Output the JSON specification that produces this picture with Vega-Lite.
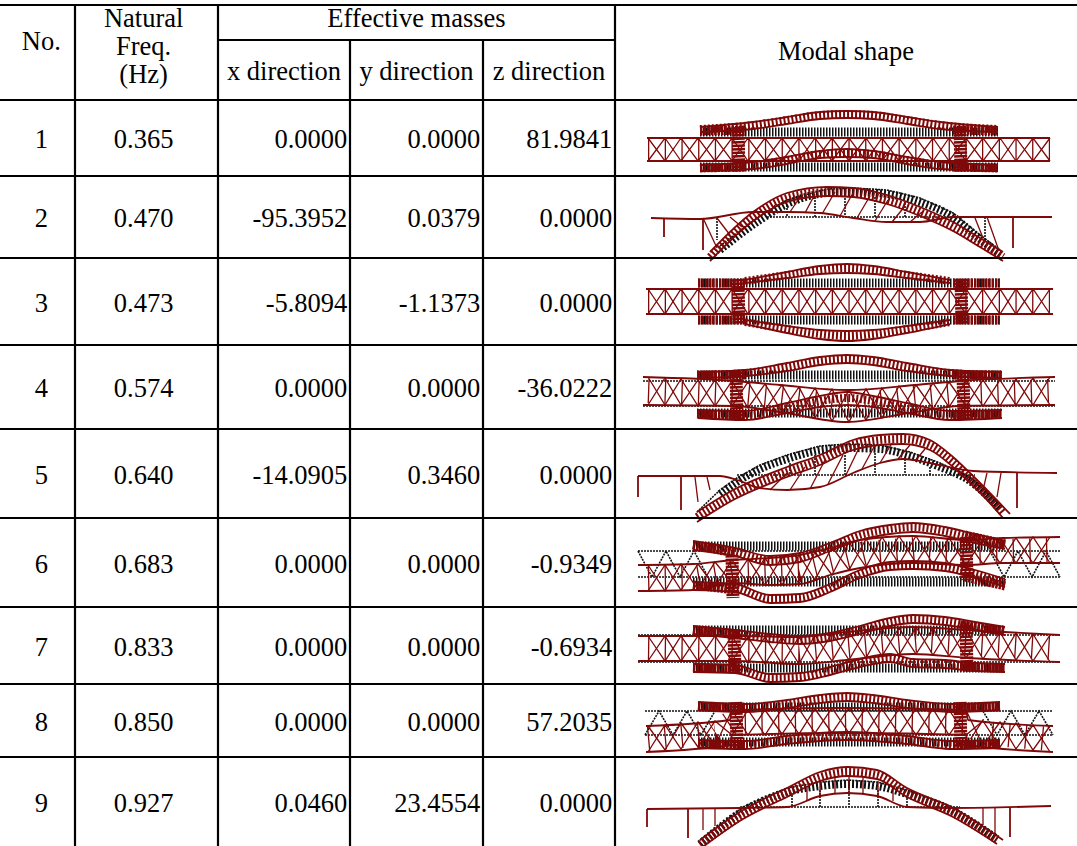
{"$schema":"https://vega.github.io/schema/vega-lite/v6.json","width":1077,"height":846,"padding":0,"autosize":"none","background":"white","config":{"view":{"stroke":null},"text":{"font":"Liberation Serif","fontSize":26.5,"color":"#000"}},
"datasets":{
"table":[{"no":1,"freq":"0.365","mx":"0.0000","my":"0.0000","mz":"81.9841"},{"no":2,"freq":"0.470","mx":"-95.3952","my":"0.0379","mz":"0.0000"},{"no":3,"freq":"0.473","mx":"-5.8094","my":"-1.1373","mz":"0.0000"},{"no":4,"freq":"0.574","mx":"0.0000","my":"0.0000","mz":"-36.0222"},{"no":5,"freq":"0.640","mx":"-14.0905","my":"0.3460","mz":"0.0000"},{"no":6,"freq":"0.683","mx":"0.0000","my":"0.0000","mz":"-0.9349"},{"no":7,"freq":"0.833","mx":"0.0000","my":"0.0000","mz":"-0.6934"},{"no":8,"freq":"0.850","mx":"0.0000","my":"0.0000","mz":"57.2035"},{"no":9,"freq":"0.927","mx":"0.0460","my":"23.4554","mz":"0.0000"}],
"head":[{"t":"No.","c":0.55,"r":0.017},{"t":"Natural","c":1.48,"r":-0.6},{"t":"Freq.","c":1.48,"r":0.058},{"t":"(Hz)","c":1.48,"r":0.29},{"t":"Effective masses","c":3.5,"r":-0.6},{"t":"x direction","c":2.5,"r":0.267},{"t":"y direction","c":3.5,"r":0.267},{"t":"z direction","c":4.5,"r":0.267},{"t":"Modal shape","c":5.5,"r":0.1}],
"hl":[{"a":0,"b":6,"r":-1},{"a":2,"b":5,"r":0},{"a":0,"b":6,"r":0.5},{"a":0,"b":6,"r":1.5},{"a":0,"b":6,"r":2.5},{"a":0,"b":6,"r":3.5},{"a":0,"b":6,"r":4.5},{"a":0,"b":6,"r":5.5},{"a":0,"b":6,"r":6.5},{"a":0,"b":6,"r":7.5},{"a":0,"b":6,"r":8.5}],
"vl":[{"c":1,"a":-1,"b":9.5},{"c":2,"a":-1,"b":9.5},{"c":3,"a":0,"b":9.5},{"c":4,"a":0,"b":9.5},{"c":5,"a":-1,"b":9.5}],
"refBand":[{"k":"1t","x":700,"y":132},{"k":"1t","x":998,"y":132},{"k":"1b","x":700,"y":167},{"k":"1b","x":998,"y":167},{"k":"3t","x":698,"y":283},{"k":"3t","x":1000,"y":283},{"k":"3b","x":698,"y":320},{"k":"3b","x":1000,"y":320},{"k":"4t","x":697,"y":375},{"k":"4t","x":1002,"y":375},{"k":"4b","x":697,"y":413},{"k":"4b","x":1002,"y":413},{"k":"6t","x":693,"y":546},{"k":"6t","x":1005,"y":546},{"k":"6b","x":693,"y":582},{"k":"6b","x":1005,"y":582},{"k":"7t","x":693,"y":630},{"k":"7t","x":1005,"y":630},{"k":"7b","x":693,"y":668},{"k":"7b","x":1005,"y":668},{"k":"8t","x":698,"y":707},{"k":"8t","x":1000,"y":707},{"k":"8b","x":698,"y":742},{"k":"8b","x":1000,"y":742}],
"refLine":[{"k":"4a","x":643,"y":381},{"k":"4a","x":1055,"y":381},{"k":"4b","x":643,"y":406},{"k":"4b","x":1055,"y":406},{"k":"6a","x":638,"y":551},{"k":"6a","x":1060,"y":551},{"k":"6b","x":638,"y":577},{"k":"6b","x":1060,"y":577},{"k":"7a","x":638,"y":635},{"k":"7a","x":1060,"y":635},{"k":"7b","x":638,"y":662},{"k":"7b","x":1060,"y":662},{"k":"8a","x":645,"y":711},{"k":"8a","x":1053,"y":711},{"k":"8b","x":645,"y":735},{"k":"8b","x":1053,"y":735},
{"k":"6l","x":638,"y":551},{"k":"6l","x":652,"y":577},{"k":"6l","x":666,"y":551},{"k":"6l","x":680,"y":577},{"k":"6l","x":694,"y":551},{"k":"6l","x":708,"y":577},{"k":"6r","x":990,"y":551},{"k":"6r","x":1004,"y":577},{"k":"6r","x":1018,"y":551},{"k":"6r","x":1032,"y":577},{"k":"6r","x":1046,"y":551},{"k":"6r","x":1060,"y":577},
{"k":"8l","x":645,"y":735},{"k":"8l","x":659,"y":711},{"k":"8l","x":673,"y":735},{"k":"8l","x":687,"y":711},{"k":"8l","x":701,"y":735},{"k":"8l","x":715,"y":711},{"k":"8r","x":983,"y":711},{"k":"8r","x":997,"y":735},{"k":"8r","x":1011,"y":711},{"k":"8r","x":1025,"y":735},{"k":"8r","x":1039,"y":711},{"k":"8r","x":1053,"y":735},
{"k":"2o","x":720,"y":246},{"k":"2o","x":760,"y":216},{"k":"2o","x":787,"y":200},{"k":"2o","x":827,"y":189},{"k":"2o","x":853,"y":188},{"k":"2o","x":887,"y":190},{"k":"2o","x":920,"y":198},{"k":"2o","x":953,"y":213},{"k":"2o","x":980,"y":235},{"k":"2o","x":1000,"y":250},{"k":"2d","x":767,"y":217},{"k":"2d","x":1005,"y":217},{"k":"2e","x":1005,"y":217},{"k":"2e","x":1052,"y":217},
{"k":"2h1","x":787,"y":205},{"k":"2h1","x":787,"y":217},{"k":"2h2","x":815,"y":197},{"k":"2h2","x":815,"y":217},{"k":"2h3","x":845,"y":195},{"k":"2h3","x":845,"y":217},{"k":"2h4","x":875,"y":197},{"k":"2h4","x":875,"y":217},{"k":"2h5","x":905,"y":203},{"k":"2h5","x":905,"y":217},{"k":"2p1","x":717,"y":218},{"k":"2p1","x":717,"y":240},{"k":"2p2","x":985,"y":217},{"k":"2p2","x":985,"y":240},
{"k":"5o","x":697,"y":512},{"k":"5o","x":720,"y":490},{"k":"5o","x":737,"y":478},{"k":"5o","x":760,"y":465},{"k":"5o","x":787,"y":455},{"k":"5o","x":820,"y":446},{"k":"5o","x":847,"y":444},{"k":"5o","x":880,"y":445},{"k":"5o","x":910,"y":452},{"k":"5o","x":940,"y":463},{"k":"5o","x":970,"y":477},{"k":"5o","x":1000,"y":505},{"k":"5d","x":737,"y":475},{"k":"5d","x":975,"y":475},
{"k":"5h1","x":790,"y":463},{"k":"5h1","x":790,"y":475},{"k":"5h2","x":815,"y":455},{"k":"5h2","x":815,"y":475},{"k":"5h3","x":845,"y":452},{"k":"5h3","x":845,"y":475},{"k":"5h4","x":875,"y":453},{"k":"5h4","x":875,"y":475},{"k":"5h5","x":905,"y":459},{"k":"5h5","x":905,"y":475},{"k":"5h6","x":930,"y":467},{"k":"5h6","x":930,"y":475},
{"k":"9o","x":700,"y":840},{"k":"9o","x":743,"y":807},{"k":"9o","x":787,"y":788},{"k":"9o","x":820,"y":782},{"k":"9o","x":848,"y":780},{"k":"9o","x":877,"y":782},{"k":"9o","x":907,"y":790},{"k":"9o","x":953,"y":807},{"k":"9o","x":997,"y":835},{"k":"9d","x":740,"y":807},{"k":"9d","x":960,"y":807},
{"k":"9h1","x":792,"y":795},{"k":"9h1","x":792,"y":807},{"k":"9h2","x":820,"y":790},{"k":"9h2","x":820,"y":807},{"k":"9h3","x":849,"y":788},{"k":"9h3","x":849,"y":807},{"k":"9h4","x":878,"y":790},{"k":"9h4","x":878,"y":807},{"k":"9h5","x":907,"y":798},{"k":"9h5","x":907,"y":807}],
"refHatch":[{"k":"2","x":720,"y":250},{"k":"2","x":760,"y":220},{"k":"2","x":787,"y":204},{"k":"2","x":827,"y":193},{"k":"2","x":853,"y":192},{"k":"2","x":887,"y":194},{"k":"2","x":920,"y":202},{"k":"2","x":953,"y":217},{"k":"2","x":980,"y":239},{"k":"2","x":1000,"y":254},{"k":"5","x":720,"y":494},{"k":"5","x":737,"y":482},{"k":"5","x":760,"y":469},{"k":"5","x":787,"y":459},{"k":"5","x":820,"y":450},{"k":"5","x":847,"y":448},{"k":"5","x":880,"y":449},{"k":"5","x":910,"y":456},{"k":"5","x":940,"y":467},{"k":"5","x":970,"y":481},{"k":"5","x":1000,"y":509},{"k":"9","x":700,"y":844},{"k":"9","x":743,"y":811},{"k":"9","x":787,"y":792},{"k":"9","x":820,"y":786},{"k":"9","x":848,"y":784},{"k":"9","x":877,"y":786},{"k":"9","x":907,"y":794},{"k":"9","x":953,"y":811},{"k":"9","x":997,"y":839}],
"vert":[{"k":"1","x":648,"y":150},{"k":"1","x":1050,"y":150},{"k":"3","x":648,"y":301},{"k":"3","x":1050,"y":301},{"k":"4","x":648,"y":391},{"k":"4","x":735,"y":394},{"k":"4","x":780,"y":398},{"k":"4","x":847,"y":406},{"k":"4","x":915,"y":398},{"k":"4","x":960,"y":394},{"k":"4","x":1050,"y":391},{"k":"6","x":648,"y":578},{"k":"6","x":698,"y":577},{"k":"6","x":733,"y":571},{"k":"6","x":799,"y":569},{"k":"6","x":866,"y":553},{"k":"6","x":916,"y":549},{"k":"6","x":966,"y":552},{"k":"6","x":1050,"y":550},{"k":"7","x":648,"y":648},{"k":"7","x":799,"y":650},{"k":"7","x":916,"y":640},{"k":"7","x":1050,"y":648},{"k":"8","x":648,"y":739},{"k":"8","x":715,"y":733},{"k":"8","x":732,"y":722},{"k":"8","x":849,"y":720},{"k":"8","x":966,"y":722},{"k":"8","x":983,"y":733},{"k":"8","x":1050,"y":739}],
"web":[
{"k":"1a","x":648,"y":138},{"k":"1a","x":665,"y":161},{"k":"1a","x":681,"y":138},{"k":"1a","x":698,"y":161},{"k":"1a","x":715,"y":138},{"k":"1a","x":732,"y":161},{"k":"1a","x":748,"y":138},{"k":"1a","x":765,"y":161},{"k":"1a","x":782,"y":138},{"k":"1a","x":799,"y":161},{"k":"1a","x":815,"y":138},{"k":"1a","x":832,"y":161},{"k":"1a","x":849,"y":138},{"k":"1a","x":866,"y":161},{"k":"1a","x":882,"y":138},{"k":"1a","x":899,"y":161},{"k":"1a","x":916,"y":138},{"k":"1a","x":933,"y":161},{"k":"1a","x":949,"y":138},{"k":"1a","x":966,"y":161},{"k":"1a","x":983,"y":138},{"k":"1a","x":1000,"y":161},{"k":"1a","x":1016,"y":138},{"k":"1a","x":1033,"y":161},{"k":"1a","x":1050,"y":138},
{"k":"1b","x":648,"y":161},{"k":"1b","x":665,"y":138},{"k":"1b","x":681,"y":161},{"k":"1b","x":698,"y":138},{"k":"1b","x":715,"y":161},{"k":"1b","x":732,"y":138},{"k":"1b","x":748,"y":161},{"k":"1b","x":765,"y":138},{"k":"1b","x":782,"y":161},{"k":"1b","x":799,"y":138},{"k":"1b","x":815,"y":161},{"k":"1b","x":832,"y":138},{"k":"1b","x":849,"y":161},{"k":"1b","x":866,"y":138},{"k":"1b","x":882,"y":161},{"k":"1b","x":899,"y":138},{"k":"1b","x":916,"y":161},{"k":"1b","x":933,"y":138},{"k":"1b","x":949,"y":161},{"k":"1b","x":966,"y":138},{"k":"1b","x":983,"y":161},{"k":"1b","x":1000,"y":138},{"k":"1b","x":1016,"y":161},{"k":"1b","x":1033,"y":138},{"k":"1b","x":1050,"y":161},
{"k":"3a","x":648,"y":289},{"k":"3a","x":665,"y":314},{"k":"3a","x":681,"y":289},{"k":"3a","x":698,"y":314},{"k":"3a","x":715,"y":289},{"k":"3a","x":732,"y":314},{"k":"3a","x":748,"y":289},{"k":"3a","x":765,"y":314},{"k":"3a","x":782,"y":289},{"k":"3a","x":799,"y":314},{"k":"3a","x":815,"y":289},{"k":"3a","x":832,"y":314},{"k":"3a","x":849,"y":289},{"k":"3a","x":866,"y":314},{"k":"3a","x":882,"y":289},{"k":"3a","x":899,"y":314},{"k":"3a","x":916,"y":289},{"k":"3a","x":933,"y":314},{"k":"3a","x":949,"y":289},{"k":"3a","x":966,"y":314},{"k":"3a","x":983,"y":289},{"k":"3a","x":1000,"y":314},{"k":"3a","x":1016,"y":289},{"k":"3a","x":1033,"y":314},{"k":"3a","x":1050,"y":289},
{"k":"3b","x":648,"y":314},{"k":"3b","x":665,"y":289},{"k":"3b","x":681,"y":314},{"k":"3b","x":698,"y":289},{"k":"3b","x":715,"y":314},{"k":"3b","x":732,"y":289},{"k":"3b","x":748,"y":314},{"k":"3b","x":765,"y":289},{"k":"3b","x":782,"y":314},{"k":"3b","x":799,"y":289},{"k":"3b","x":815,"y":314},{"k":"3b","x":832,"y":289},{"k":"3b","x":849,"y":314},{"k":"3b","x":866,"y":289},{"k":"3b","x":882,"y":314},{"k":"3b","x":899,"y":289},{"k":"3b","x":916,"y":314},{"k":"3b","x":933,"y":289},{"k":"3b","x":949,"y":314},{"k":"3b","x":966,"y":289},{"k":"3b","x":983,"y":314},{"k":"3b","x":1000,"y":289},{"k":"3b","x":1016,"y":314},{"k":"3b","x":1033,"y":289},{"k":"3b","x":1050,"y":314},
{"k":"4a","x":648,"y":377},{"k":"4a","x":665,"y":405},{"k":"4a","x":681,"y":379},{"k":"4a","x":698,"y":406},{"k":"4a","x":715,"y":380},{"k":"4a","x":732,"y":406},{"k":"4a","x":748,"y":382},{"k":"4a","x":765,"y":410},{"k":"4a","x":782,"y":385},{"k":"4a","x":799,"y":415},{"k":"4a","x":815,"y":388},{"k":"4a","x":832,"y":421},{"k":"4a","x":849,"y":390},{"k":"4a","x":866,"y":420},{"k":"4a","x":882,"y":388},{"k":"4a","x":899,"y":415},{"k":"4a","x":916,"y":385},{"k":"4a","x":933,"y":409},{"k":"4a","x":949,"y":382},{"k":"4a","x":966,"y":406},{"k":"4a","x":983,"y":380},{"k":"4a","x":1000,"y":406},{"k":"4a","x":1016,"y":379},{"k":"4a","x":1033,"y":405},{"k":"4a","x":1050,"y":377},
{"k":"4b","x":648,"y":405},{"k":"4b","x":665,"y":378},{"k":"4b","x":681,"y":405},{"k":"4b","x":698,"y":380},{"k":"4b","x":715,"y":406},{"k":"4b","x":732,"y":381},{"k":"4b","x":748,"y":408},{"k":"4b","x":765,"y":384},{"k":"4b","x":782,"y":412},{"k":"4b","x":799,"y":387},{"k":"4b","x":815,"y":418},{"k":"4b","x":832,"y":389},{"k":"4b","x":849,"y":422},{"k":"4b","x":866,"y":389},{"k":"4b","x":882,"y":418},{"k":"4b","x":899,"y":386},{"k":"4b","x":916,"y":412},{"k":"4b","x":933,"y":383},{"k":"4b","x":949,"y":407},{"k":"4b","x":966,"y":381},{"k":"4b","x":983,"y":406},{"k":"4b","x":1000,"y":380},{"k":"4b","x":1016,"y":405},{"k":"4b","x":1033,"y":378},{"k":"4b","x":1050,"y":405},
{"k":"6a","x":648,"y":565},{"k":"6a","x":665,"y":591},{"k":"6a","x":681,"y":564},{"k":"6a","x":698,"y":590},{"k":"6a","x":715,"y":562},{"k":"6a","x":732,"y":583},{"k":"6a","x":748,"y":559},{"k":"6a","x":765,"y":585},{"k":"6a","x":782,"y":557},{"k":"6a","x":799,"y":584},{"k":"6a","x":815,"y":552},{"k":"6a","x":832,"y":575},{"k":"6a","x":849,"y":542},{"k":"6a","x":866,"y":567},{"k":"6a","x":882,"y":537},{"k":"6a","x":899,"y":564},{"k":"6a","x":916,"y":536},{"k":"6a","x":933,"y":564},{"k":"6a","x":949,"y":538},{"k":"6a","x":966,"y":565},{"k":"6a","x":983,"y":539},{"k":"6a","x":1000,"y":563},{"k":"6a","x":1016,"y":538},{"k":"6a","x":1033,"y":563},{"k":"6a","x":1050,"y":537},
{"k":"6b","x":648,"y":591},{"k":"6b","x":665,"y":565},{"k":"6b","x":681,"y":590},{"k":"6b","x":698,"y":564},{"k":"6b","x":715,"y":587},{"k":"6b","x":732,"y":560},{"k":"6b","x":748,"y":584},{"k":"6b","x":765,"y":558},{"k":"6b","x":782,"y":585},{"k":"6b","x":799,"y":555},{"k":"6b","x":815,"y":580},{"k":"6b","x":832,"y":547},{"k":"6b","x":849,"y":570},{"k":"6b","x":866,"y":539},{"k":"6b","x":882,"y":565},{"k":"6b","x":899,"y":536},{"k":"6b","x":916,"y":563},{"k":"6b","x":933,"y":537},{"k":"6b","x":949,"y":564},{"k":"6b","x":966,"y":540},{"k":"6b","x":983,"y":564},{"k":"6b","x":1000,"y":538},{"k":"6b","x":1016,"y":563},{"k":"6b","x":1033,"y":537},{"k":"6b","x":1050,"y":563},
{"k":"7a","x":648,"y":636},{"k":"7a","x":665,"y":661},{"k":"7a","x":681,"y":636},{"k":"7a","x":698,"y":661},{"k":"7a","x":715,"y":636},{"k":"7a","x":732,"y":661},{"k":"7a","x":748,"y":637},{"k":"7a","x":765,"y":664},{"k":"7a","x":782,"y":637},{"k":"7a","x":799,"y":664},{"k":"7a","x":815,"y":635},{"k":"7a","x":832,"y":661},{"k":"7a","x":849,"y":632},{"k":"7a","x":866,"y":658},{"k":"7a","x":882,"y":629},{"k":"7a","x":899,"y":655},{"k":"7a","x":916,"y":627},{"k":"7a","x":933,"y":655},{"k":"7a","x":949,"y":629},{"k":"7a","x":966,"y":658},{"k":"7a","x":983,"y":631},{"k":"7a","x":1000,"y":660},{"k":"7a","x":1016,"y":633},{"k":"7a","x":1033,"y":661},{"k":"7a","x":1050,"y":635},
{"k":"7b","x":648,"y":661},{"k":"7b","x":665,"y":636},{"k":"7b","x":681,"y":661},{"k":"7b","x":698,"y":636},{"k":"7b","x":715,"y":661},{"k":"7b","x":732,"y":636},{"k":"7b","x":748,"y":663},{"k":"7b","x":765,"y":637},{"k":"7b","x":782,"y":664},{"k":"7b","x":799,"y":637},{"k":"7b","x":815,"y":662},{"k":"7b","x":832,"y":633},{"k":"7b","x":849,"y":660},{"k":"7b","x":866,"y":630},{"k":"7b","x":882,"y":656},{"k":"7b","x":899,"y":628},{"k":"7b","x":916,"y":654},{"k":"7b","x":933,"y":628},{"k":"7b","x":949,"y":656},{"k":"7b","x":966,"y":630},{"k":"7b","x":983,"y":659},{"k":"7b","x":1000,"y":632},{"k":"7b","x":1016,"y":660},{"k":"7b","x":1033,"y":634},{"k":"7b","x":1050,"y":662},
{"k":"8a","x":648,"y":726},{"k":"8a","x":665,"y":750},{"k":"8a","x":681,"y":723},{"k":"8a","x":698,"y":747},{"k":"8a","x":715,"y":721},{"k":"8a","x":732,"y":735},{"k":"8a","x":748,"y":710},{"k":"8a","x":765,"y":735},{"k":"8a","x":782,"y":709},{"k":"8a","x":799,"y":734},{"k":"8a","x":815,"y":709},{"k":"8a","x":832,"y":733},{"k":"8a","x":849,"y":708},{"k":"8a","x":866,"y":733},{"k":"8a","x":882,"y":709},{"k":"8a","x":899,"y":734},{"k":"8a","x":916,"y":709},{"k":"8a","x":933,"y":735},{"k":"8a","x":949,"y":710},{"k":"8a","x":966,"y":735},{"k":"8a","x":983,"y":721},{"k":"8a","x":1000,"y":747},{"k":"8a","x":1016,"y":723},{"k":"8a","x":1033,"y":750},{"k":"8a","x":1050,"y":726},
{"k":"8b","x":648,"y":752},{"k":"8b","x":665,"y":725},{"k":"8b","x":681,"y":749},{"k":"8b","x":698,"y":722},{"k":"8b","x":715,"y":746},{"k":"8b","x":732,"y":710},{"k":"8b","x":748,"y":735},{"k":"8b","x":765,"y":710},{"k":"8b","x":782,"y":734},{"k":"8b","x":799,"y":709},{"k":"8b","x":815,"y":733},{"k":"8b","x":832,"y":708},{"k":"8b","x":849,"y":733},{"k":"8b","x":866,"y":708},{"k":"8b","x":882,"y":734},{"k":"8b","x":899,"y":709},{"k":"8b","x":916,"y":735},{"k":"8b","x":933,"y":709},{"k":"8b","x":949,"y":735},{"k":"8b","x":966,"y":710},{"k":"8b","x":983,"y":746},{"k":"8b","x":1000,"y":722},{"k":"8b","x":1016,"y":749},{"k":"8b","x":1033,"y":725},{"k":"8b","x":1050,"y":752},
{"k":"2h1","x":770,"y":212},{"k":"2h1","x":775,"y":205},{"k":"2h2","x":790,"y":212},{"k":"2h2","x":800,"y":197},{"k":"2h3","x":805,"y":213},{"k":"2h3","x":815,"y":194},{"k":"2h4","x":822,"y":214},{"k":"2h4","x":835,"y":192},{"k":"2h5","x":840,"y":216},{"k":"2h5","x":853,"y":193},{"k":"2h6","x":857,"y":218},{"k":"2h6","x":870,"y":196},{"k":"2h7","x":875,"y":221},{"k":"2h7","x":888,"y":200},{"k":"2h8","x":892,"y":222},{"k":"2h8","x":905,"y":206},{"k":"2h9","x":910,"y":222},{"k":"2h9","x":922,"y":212},{"k":"2p1","x":703,"y":218},{"k":"2p1","x":717,"y":248},{"k":"2p2","x":717,"y":218},{"k":"2p2","x":730,"y":235},{"k":"2p3","x":730,"y":217},{"k":"2p3","x":742,"y":227},{"k":"2p4","x":975,"y":218},{"k":"2p4","x":983,"y":238},{"k":"2p5","x":987,"y":217},{"k":"2p5","x":998,"y":248},
{"k":"5h1","x":770,"y":490},{"k":"5h1","x":787,"y":473},{"k":"5h2","x":790,"y":490},{"k":"5h2","x":805,"y":467},{"k":"5h3","x":810,"y":489},{"k":"5h3","x":825,"y":460},{"k":"5h4","x":828,"y":484},{"k":"5h4","x":843,"y":455},{"k":"5h5","x":845,"y":477},{"k":"5h5","x":858,"y":450},{"k":"5h6","x":862,"y":469},{"k":"5h6","x":875,"y":445},{"k":"5h7","x":880,"y":463},{"k":"5h7","x":892,"y":443},{"k":"5h8","x":898,"y":459},{"k":"5h8","x":910,"y":445},{"k":"5h9","x":915,"y":461},{"k":"5h9","x":925,"y":449},{"k":"5p1","x":695,"y":477},{"k":"5p1","x":698,"y":502},{"k":"5p2","x":707,"y":477},{"k":"5p2","x":710,"y":490},{"k":"5p3","x":983,"y":490},{"k":"5p3","x":987,"y":473},{"k":"5p4","x":997,"y":497},{"k":"5p4","x":1001,"y":473},
{"k":"9h1","x":807,"y":786},{"k":"9h1","x":807,"y":801},{"k":"9h2","x":820,"y":781},{"k":"9h2","x":820,"y":796},{"k":"9h3","x":835,"y":778},{"k":"9h3","x":835,"y":794},{"k":"9h4","x":849,"y":776},{"k":"9h4","x":849,"y":793},{"k":"9h5","x":863,"y":777},{"k":"9h5","x":863,"y":794},{"k":"9h6","x":878,"y":781},{"k":"9h6","x":878,"y":796},{"k":"9h7","x":893,"y":786},{"k":"9h7","x":893,"y":801},{"k":"9p1","x":703,"y":809},{"k":"9p1","x":703,"y":830},{"k":"9p2","x":715,"y":809},{"k":"9p2","x":715,"y":826},{"k":"9p3","x":983,"y":807},{"k":"9p3","x":983,"y":825},{"k":"9p4","x":995,"y":807},{"k":"9p4","x":995,"y":835}],
"hatch":[{"k":"1u","x":700,"y":129},{"k":"1u","x":753,"y":125},{"k":"1u","x":787,"y":120},{"k":"1u","x":820,"y":115},{"k":"1u","x":847,"y":114},{"k":"1u","x":873,"y":115},{"k":"1u","x":907,"y":120},{"k":"1u","x":940,"y":125},{"k":"1u","x":998,"y":129},{"k":"1l","x":700,"y":168},{"k":"1l","x":753,"y":165},{"k":"1l","x":787,"y":160},{"k":"1l","x":820,"y":154},{"k":"1l","x":847,"y":153},{"k":"1l","x":873,"y":154},{"k":"1l","x":907,"y":160},{"k":"1l","x":940,"y":165},{"k":"1l","x":998,"y":168},
{"k":"3u","x":745,"y":281},{"k":"3u","x":787,"y":275},{"k":"3u","x":820,"y":270},{"k":"3u","x":847,"y":268},{"k":"3u","x":873,"y":270},{"k":"3u","x":907,"y":275},{"k":"3u","x":950,"y":281},{"k":"3l","x":745,"y":322},{"k":"3l","x":787,"y":329},{"k":"3l","x":820,"y":334},{"k":"3l","x":847,"y":336},{"k":"3l","x":873,"y":334},{"k":"3l","x":907,"y":329},{"k":"3l","x":950,"y":322},
{"k":"4u","x":698,"y":375},{"k":"4u","x":745,"y":373},{"k":"4u","x":787,"y":367},{"k":"4u","x":820,"y":361},{"k":"4u","x":847,"y":359},{"k":"4u","x":873,"y":361},{"k":"4u","x":907,"y":367},{"k":"4u","x":950,"y":373},{"k":"4u","x":1002,"y":375},{"k":"4l","x":698,"y":414},{"k":"4l","x":745,"y":416},{"k":"4l","x":787,"y":408},{"k":"4l","x":820,"y":401},{"k":"4l","x":847,"y":398},{"k":"4l","x":873,"y":401},{"k":"4l","x":907,"y":408},{"k":"4l","x":950,"y":416},{"k":"4l","x":1002,"y":414},
{"k":"6u","x":693,"y":545},{"k":"6u","x":735,"y":552},{"k":"6u","x":770,"y":560},{"k":"6u","x":800,"y":557},{"k":"6u","x":830,"y":547},{"k":"6u","x":860,"y":535},{"k":"6u","x":890,"y":529},{"k":"6u","x":913,"y":527},{"k":"6u","x":945,"y":531},{"k":"6u","x":975,"y":538},{"k":"6u","x":1005,"y":545},{"k":"6l","x":693,"y":586},{"k":"6l","x":735,"y":588},{"k":"6l","x":770,"y":599},{"k":"6l","x":800,"y":598},{"k":"6l","x":830,"y":588},{"k":"6l","x":860,"y":574},{"k":"6l","x":890,"y":566},{"k":"6l","x":913,"y":565},{"k":"6l","x":945,"y":567},{"k":"6l","x":975,"y":574},{"k":"6l","x":1005,"y":583},
{"k":"7u","x":693,"y":630},{"k":"7u","x":735,"y":634},{"k":"7u","x":770,"y":638},{"k":"7u","x":800,"y":640},{"k":"7u","x":830,"y":637},{"k":"7u","x":860,"y":630},{"k":"7u","x":890,"y":622},{"k":"7u","x":913,"y":619},{"k":"7u","x":945,"y":621},{"k":"7u","x":975,"y":626},{"k":"7u","x":1005,"y":631},{"k":"7l","x":693,"y":668},{"k":"7l","x":735,"y":669},{"k":"7l","x":770,"y":678},{"k":"7l","x":800,"y":677},{"k":"7l","x":830,"y":671},{"k":"7l","x":860,"y":663},{"k":"7l","x":890,"y":658},{"k":"7l","x":913,"y":663},{"k":"7l","x":945,"y":664},{"k":"7l","x":975,"y":667},{"k":"7l","x":1005,"y":668},
{"k":"8u","x":698,"y":706},{"k":"8u","x":745,"y":708},{"k":"8u","x":787,"y":704},{"k":"8u","x":820,"y":699},{"k":"8u","x":847,"y":697},{"k":"8u","x":873,"y":699},{"k":"8u","x":907,"y":704},{"k":"8u","x":950,"y":708},{"k":"8u","x":1000,"y":706},{"k":"8l","x":698,"y":744},{"k":"8l","x":745,"y":745},{"k":"8l","x":787,"y":740},{"k":"8l","x":820,"y":737},{"k":"8l","x":847,"y":736},{"k":"8l","x":873,"y":737},{"k":"8l","x":907,"y":740},{"k":"8l","x":950,"y":745},{"k":"8l","x":1000,"y":744},
{"k":"2","x":710,"y":257},{"k":"2","x":753,"y":217},{"k":"2","x":787,"y":198},{"k":"2","x":827,"y":192},{"k":"2","x":853,"y":193},{"k":"2","x":887,"y":200},{"k":"2","x":920,"y":212},{"k":"2","x":953,"y":227},{"k":"2","x":980,"y":243},{"k":"2","x":1003,"y":257},
{"k":"5","x":697,"y":517},{"k":"5","x":735,"y":494},{"k":"5","x":787,"y":472},{"k":"5","x":820,"y":460},{"k":"5","x":853,"y":445},{"k":"5","x":880,"y":440},{"k":"5","x":903,"y":439},{"k":"5","x":930,"y":445},{"k":"5","x":953,"y":462},{"k":"5","x":970,"y":478},{"k":"5","x":987,"y":495},{"k":"5","x":1003,"y":513},
{"k":"9","x":700,"y":845},{"k":"9","x":743,"y":815},{"k":"9","x":787,"y":793},{"k":"9","x":820,"y":777},{"k":"9","x":848,"y":772},{"k":"9","x":877,"y":775},{"k":"9","x":907,"y":793},{"k":"9","x":953,"y":813},{"k":"9","x":997,"y":840}],
"chord":[{"k":"1ua","x":700,"y":127},{"k":"1ua","x":753,"y":122},{"k":"1ua","x":787,"y":117},{"k":"1ua","x":820,"y":112},{"k":"1ua","x":847,"y":111},{"k":"1ua","x":873,"y":112},{"k":"1ua","x":907,"y":117},{"k":"1ua","x":940,"y":122},{"k":"1ua","x":998,"y":127},{"k":"1ub","x":700,"y":132},{"k":"1ub","x":753,"y":129},{"k":"1ub","x":787,"y":124},{"k":"1ub","x":820,"y":119},{"k":"1ub","x":847,"y":118},{"k":"1ub","x":873,"y":119},{"k":"1ub","x":907,"y":124},{"k":"1ub","x":940,"y":129},{"k":"1ub","x":998,"y":132},{"k":"1la","x":700,"y":165},{"k":"1la","x":753,"y":162},{"k":"1la","x":787,"y":157},{"k":"1la","x":820,"y":151},{"k":"1la","x":847,"y":149},{"k":"1la","x":873,"y":151},{"k":"1la","x":907,"y":157},{"k":"1la","x":940,"y":162},{"k":"1la","x":998,"y":165},{"k":"1lb","x":700,"y":171},{"k":"1lb","x":753,"y":169},{"k":"1lb","x":787,"y":164},{"k":"1lb","x":820,"y":158},{"k":"1lb","x":847,"y":157},{"k":"1lb","x":873,"y":158},{"k":"1lb","x":907,"y":164},{"k":"1lb","x":940,"y":169},{"k":"1lb","x":998,"y":171},{"k":"1d1","x":647,"y":138},{"k":"1d1","x":1050,"y":138},{"k":"1d2","x":647,"y":161},{"k":"1d2","x":1050,"y":161},
{"k":"3ua","x":745,"y":280},{"k":"3ua","x":787,"y":272},{"k":"3ua","x":820,"y":266},{"k":"3ua","x":847,"y":264},{"k":"3ua","x":873,"y":266},{"k":"3ua","x":907,"y":272},{"k":"3ua","x":950,"y":280},{"k":"3ub","x":745,"y":283},{"k":"3ub","x":787,"y":278},{"k":"3ub","x":820,"y":274},{"k":"3ub","x":847,"y":273},{"k":"3ub","x":873,"y":274},{"k":"3ub","x":907,"y":278},{"k":"3ub","x":950,"y":283},{"k":"3la","x":745,"y":320},{"k":"3la","x":787,"y":326},{"k":"3la","x":820,"y":330},{"k":"3la","x":847,"y":331},{"k":"3la","x":873,"y":330},{"k":"3la","x":907,"y":326},{"k":"3la","x":950,"y":320},{"k":"3lb","x":745,"y":324},{"k":"3lb","x":787,"y":333},{"k":"3lb","x":820,"y":339},{"k":"3lb","x":847,"y":341},{"k":"3lb","x":873,"y":339},{"k":"3lb","x":907,"y":333},{"k":"3lb","x":950,"y":324},{"k":"3d1","x":646,"y":289},{"k":"3d1","x":1053,"y":289},{"k":"3d2","x":646,"y":314},{"k":"3d2","x":1053,"y":314},
{"k":"4ua","x":698,"y":372},{"k":"4ua","x":745,"y":370},{"k":"4ua","x":787,"y":363},{"k":"4ua","x":820,"y":357},{"k":"4ua","x":847,"y":355},{"k":"4ua","x":873,"y":357},{"k":"4ua","x":907,"y":363},{"k":"4ua","x":950,"y":370},{"k":"4ua","x":1002,"y":372},{"k":"4ub","x":698,"y":378},{"k":"4ub","x":745,"y":376},{"k":"4ub","x":787,"y":371},{"k":"4ub","x":820,"y":365},{"k":"4ub","x":847,"y":363},{"k":"4ub","x":873,"y":365},{"k":"4ub","x":907,"y":371},{"k":"4ub","x":950,"y":376},{"k":"4ub","x":1002,"y":378},{"k":"4la","x":698,"y":410},{"k":"4la","x":745,"y":411},{"k":"4la","x":787,"y":403},{"k":"4la","x":820,"y":396},{"k":"4la","x":847,"y":392},{"k":"4la","x":873,"y":396},{"k":"4la","x":907,"y":403},{"k":"4la","x":950,"y":411},{"k":"4la","x":1002,"y":410},{"k":"4lb","x":698,"y":418},{"k":"4lb","x":745,"y":420},{"k":"4lb","x":787,"y":413},{"k":"4lb","x":820,"y":407},{"k":"4lb","x":847,"y":405},{"k":"4lb","x":873,"y":407},{"k":"4lb","x":907,"y":413},{"k":"4lb","x":950,"y":420},{"k":"4lb","x":1002,"y":418},{"k":"4d1","x":643,"y":377},{"k":"4d1","x":735,"y":381},{"k":"4d1","x":780,"y":385},{"k":"4d1","x":847,"y":390},{"k":"4d1","x":915,"y":385},{"k":"4d1","x":960,"y":381},{"k":"4d1","x":1055,"y":377},{"k":"4d2","x":643,"y":405},{"k":"4d2","x":735,"y":406},{"k":"4d2","x":780,"y":412},{"k":"4d2","x":847,"y":422},{"k":"4d2","x":915,"y":412},{"k":"4d2","x":960,"y":406},{"k":"4d2","x":1055,"y":405},
{"k":"6ua","x":693,"y":541},{"k":"6ua","x":735,"y":548},{"k":"6ua","x":770,"y":556},{"k":"6ua","x":800,"y":553},{"k":"6ua","x":830,"y":543},{"k":"6ua","x":860,"y":531},{"k":"6ua","x":890,"y":525},{"k":"6ua","x":913,"y":523},{"k":"6ua","x":945,"y":527},{"k":"6ua","x":975,"y":534},{"k":"6ua","x":1005,"y":541},{"k":"6ub","x":693,"y":550},{"k":"6ub","x":735,"y":556},{"k":"6ub","x":770,"y":565},{"k":"6ub","x":800,"y":562},{"k":"6ub","x":830,"y":551},{"k":"6ub","x":860,"y":540},{"k":"6ub","x":890,"y":534},{"k":"6ub","x":913,"y":532},{"k":"6ub","x":945,"y":536},{"k":"6ub","x":975,"y":543},{"k":"6ub","x":1005,"y":549},{"k":"6la","x":693,"y":582},{"k":"6la","x":735,"y":584},{"k":"6la","x":770,"y":595},{"k":"6la","x":800,"y":594},{"k":"6la","x":830,"y":584},{"k":"6la","x":860,"y":570},{"k":"6la","x":890,"y":562},{"k":"6la","x":913,"y":561},{"k":"6la","x":945,"y":563},{"k":"6la","x":975,"y":570},{"k":"6la","x":1005,"y":579},{"k":"6lb","x":693,"y":590},{"k":"6lb","x":735,"y":592},{"k":"6lb","x":770,"y":603},{"k":"6lb","x":800,"y":602},{"k":"6lb","x":830,"y":592},{"k":"6lb","x":860,"y":578},{"k":"6lb","x":890,"y":570},{"k":"6lb","x":913,"y":569},{"k":"6lb","x":945,"y":571},{"k":"6lb","x":975,"y":578},{"k":"6lb","x":1005,"y":587},{"k":"6d1","x":638,"y":565},{"k":"6d1","x":693,"y":564},{"k":"6d1","x":733,"y":560},{"k":"6d1","x":770,"y":558},{"k":"6d1","x":800,"y":555},{"k":"6d1","x":830,"y":548},{"k":"6d1","x":860,"y":540},{"k":"6d1","x":913,"y":536},{"k":"6d1","x":967,"y":540},{"k":"6d1","x":1003,"y":538},{"k":"6d1","x":1060,"y":537},{"k":"6d2","x":638,"y":591},{"k":"6d2","x":693,"y":590},{"k":"6d2","x":733,"y":583},{"k":"6d2","x":770,"y":585},{"k":"6d2","x":800,"y":584},{"k":"6d2","x":830,"y":575},{"k":"6d2","x":860,"y":568},{"k":"6d2","x":913,"y":563},{"k":"6d2","x":967,"y":565},{"k":"6d2","x":1003,"y":563},{"k":"6d2","x":1060,"y":563},
{"k":"7ua","x":693,"y":626},{"k":"7ua","x":735,"y":630},{"k":"7ua","x":770,"y":634},{"k":"7ua","x":800,"y":636},{"k":"7ua","x":830,"y":633},{"k":"7ua","x":860,"y":626},{"k":"7ua","x":890,"y":618},{"k":"7ua","x":913,"y":615},{"k":"7ua","x":945,"y":617},{"k":"7ua","x":975,"y":622},{"k":"7ua","x":1005,"y":627},{"k":"7ub","x":693,"y":634},{"k":"7ub","x":735,"y":638},{"k":"7ub","x":770,"y":642},{"k":"7ub","x":800,"y":644},{"k":"7ub","x":830,"y":641},{"k":"7ub","x":860,"y":634},{"k":"7ub","x":890,"y":626},{"k":"7ub","x":913,"y":623},{"k":"7ub","x":945,"y":625},{"k":"7ub","x":975,"y":630},{"k":"7ub","x":1005,"y":635},{"k":"7la","x":693,"y":664},{"k":"7la","x":735,"y":665},{"k":"7la","x":770,"y":674},{"k":"7la","x":800,"y":673},{"k":"7la","x":830,"y":667},{"k":"7la","x":860,"y":659},{"k":"7la","x":890,"y":654},{"k":"7la","x":913,"y":659},{"k":"7la","x":945,"y":660},{"k":"7la","x":975,"y":663},{"k":"7la","x":1005,"y":664},{"k":"7lb","x":693,"y":672},{"k":"7lb","x":735,"y":673},{"k":"7lb","x":770,"y":682},{"k":"7lb","x":800,"y":681},{"k":"7lb","x":830,"y":675},{"k":"7lb","x":860,"y":667},{"k":"7lb","x":890,"y":662},{"k":"7lb","x":913,"y":667},{"k":"7lb","x":945,"y":668},{"k":"7lb","x":975,"y":671},{"k":"7lb","x":1005,"y":672},{"k":"7d1","x":638,"y":636},{"k":"7d1","x":733,"y":636},{"k":"7d1","x":800,"y":637},{"k":"7d1","x":847,"y":632},{"k":"7d1","x":913,"y":627},{"k":"7d1","x":967,"y":630},{"k":"7d1","x":1060,"y":635},{"k":"7d2","x":638,"y":661},{"k":"7d2","x":733,"y":661},{"k":"7d2","x":800,"y":664},{"k":"7d2","x":847,"y":660},{"k":"7d2","x":913,"y":654},{"k":"7d2","x":967,"y":658},{"k":"7d2","x":1060,"y":662},
{"k":"8ua","x":698,"y":702},{"k":"8ua","x":745,"y":704},{"k":"8ua","x":787,"y":700},{"k":"8ua","x":820,"y":695},{"k":"8ua","x":847,"y":693},{"k":"8ua","x":873,"y":695},{"k":"8ua","x":907,"y":700},{"k":"8ua","x":950,"y":704},{"k":"8ua","x":1000,"y":702},{"k":"8ub","x":698,"y":710},{"k":"8ub","x":745,"y":712},{"k":"8ub","x":787,"y":708},{"k":"8ub","x":820,"y":703},{"k":"8ub","x":847,"y":701},{"k":"8ub","x":873,"y":703},{"k":"8ub","x":907,"y":708},{"k":"8ub","x":950,"y":712},{"k":"8ub","x":1000,"y":710},{"k":"8la","x":698,"y":740},{"k":"8la","x":745,"y":741},{"k":"8la","x":787,"y":736},{"k":"8la","x":820,"y":733},{"k":"8la","x":847,"y":732},{"k":"8la","x":873,"y":733},{"k":"8la","x":907,"y":736},{"k":"8la","x":950,"y":741},{"k":"8la","x":1000,"y":740},{"k":"8lb","x":698,"y":748},{"k":"8lb","x":745,"y":749},{"k":"8lb","x":787,"y":744},{"k":"8lb","x":820,"y":741},{"k":"8lb","x":847,"y":740},{"k":"8lb","x":873,"y":741},{"k":"8lb","x":907,"y":744},{"k":"8lb","x":950,"y":749},{"k":"8lb","x":1000,"y":748},{"k":"8d1","x":646,"y":726},{"k":"8d1","x":730,"y":720},{"k":"8d1","x":732,"y":710},{"k":"8d1","x":847,"y":708},{"k":"8d1","x":966,"y":710},{"k":"8d1","x":968,"y":720},{"k":"8d1","x":1053,"y":726},{"k":"8d2","x":646,"y":752},{"k":"8d2","x":730,"y":745},{"k":"8d2","x":732,"y":735},{"k":"8d2","x":847,"y":733},{"k":"8d2","x":966,"y":735},{"k":"8d2","x":968,"y":745},{"k":"8d2","x":1053,"y":752},
{"k":"2a","x":710,"y":252},{"k":"2a","x":753,"y":212},{"k":"2a","x":787,"y":193},{"k":"2a","x":827,"y":187},{"k":"2a","x":853,"y":188},{"k":"2a","x":887,"y":195},{"k":"2a","x":920,"y":207},{"k":"2a","x":953,"y":222},{"k":"2a","x":980,"y":238},{"k":"2a","x":1003,"y":252},{"k":"2b","x":710,"y":261},{"k":"2b","x":753,"y":221},{"k":"2b","x":787,"y":202},{"k":"2b","x":827,"y":196},{"k":"2b","x":853,"y":197},{"k":"2b","x":887,"y":204},{"k":"2b","x":920,"y":216},{"k":"2b","x":953,"y":231},{"k":"2b","x":980,"y":247},{"k":"2b","x":1003,"y":261},{"k":"2d","x":651,"y":218},{"k":"2d","x":700,"y":219},{"k":"2d","x":753,"y":212},{"k":"2d","x":787,"y":212},{"k":"2d","x":820,"y":213},{"k":"2d","x":853,"y":218},{"k":"2d","x":887,"y":222},{"k":"2d","x":920,"y":222},{"k":"2d","x":953,"y":217},{"k":"2d","x":1052,"y":217},{"k":"2p1","x":664,"y":218},{"k":"2p1","x":664,"y":237},{"k":"2p2","x":703,"y":219},{"k":"2p2","x":703,"y":250},{"k":"2p3","x":1013,"y":218},{"k":"2p3","x":1013,"y":248},
{"k":"5a","x":697,"y":512},{"k":"5a","x":735,"y":489},{"k":"5a","x":787,"y":467},{"k":"5a","x":820,"y":455},{"k":"5a","x":853,"y":440},{"k":"5a","x":880,"y":435},{"k":"5a","x":903,"y":434},{"k":"5a","x":930,"y":440},{"k":"5a","x":953,"y":457},{"k":"5a","x":970,"y":473},{"k":"5a","x":987,"y":490},{"k":"5a","x":1010,"y":514},{"k":"5b","x":697,"y":522},{"k":"5b","x":735,"y":499},{"k":"5b","x":787,"y":477},{"k":"5b","x":820,"y":465},{"k":"5b","x":853,"y":450},{"k":"5b","x":880,"y":445},{"k":"5b","x":903,"y":444},{"k":"5b","x":930,"y":450},{"k":"5b","x":953,"y":467},{"k":"5b","x":970,"y":483},{"k":"5b","x":987,"y":500},{"k":"5b","x":1003,"y":518},{"k":"5d","x":638,"y":476},{"k":"5d","x":720,"y":476},{"k":"5d","x":737,"y":480},{"k":"5d","x":760,"y":488},{"k":"5d","x":787,"y":490},{"k":"5d","x":820,"y":487},{"k":"5d","x":853,"y":473},{"k":"5d","x":880,"y":463},{"k":"5d","x":903,"y":459},{"k":"5d","x":930,"y":463},{"k":"5d","x":953,"y":468},{"k":"5d","x":973,"y":471},{"k":"5d","x":1057,"y":473},{"k":"5p1","x":638,"y":476},{"k":"5p1","x":638,"y":497},{"k":"5p2","x":681,"y":476},{"k":"5p2","x":681,"y":510},{"k":"5p3","x":1017,"y":473},{"k":"5p3","x":1017,"y":508},
{"k":"9a","x":700,"y":840},{"k":"9a","x":743,"y":810},{"k":"9a","x":787,"y":788},{"k":"9a","x":820,"y":772},{"k":"9a","x":848,"y":767},{"k":"9a","x":877,"y":770},{"k":"9a","x":907,"y":788},{"k":"9a","x":953,"y":808},{"k":"9a","x":1003,"y":840},{"k":"9b","x":700,"y":849},{"k":"9b","x":743,"y":819},{"k":"9b","x":787,"y":797},{"k":"9b","x":820,"y":781},{"k":"9b","x":848,"y":776},{"k":"9b","x":877,"y":779},{"k":"9b","x":907,"y":797},{"k":"9b","x":953,"y":817},{"k":"9b","x":997,"y":844},{"k":"9d","x":647,"y":809},{"k":"9d","x":740,"y":808},{"k":"9d","x":787,"y":807},{"k":"9d","x":820,"y":796},{"k":"9d","x":847,"y":793},{"k":"9d","x":877,"y":796},{"k":"9d","x":907,"y":807},{"k":"9d","x":953,"y":808},{"k":"9d","x":1051,"y":806},{"k":"9p1","x":647,"y":809},{"k":"9p1","x":647,"y":827},{"k":"9p2","x":688,"y":809},{"k":"9p2","x":688,"y":838},{"k":"9p3","x":1010,"y":807},{"k":"9p3","x":1010,"y":837}],
"band":[{"k":"1a","x":700,"y":131},{"k":"1a","x":745,"y":130},{"k":"1b","x":953,"y":130},{"k":"1b","x":998,"y":131},{"k":"1c","x":700,"y":168},{"k":"1c","x":745,"y":167},{"k":"1d","x":953,"y":167},{"k":"1d","x":998,"y":168},{"k":"3a","x":698,"y":283},{"k":"3a","x":745,"y":283},{"k":"3b","x":953,"y":283},{"k":"3b","x":1000,"y":283},{"k":"3c","x":698,"y":320},{"k":"3c","x":745,"y":320},{"k":"3d","x":953,"y":320},{"k":"3d","x":1000,"y":320},{"k":"4a","x":697,"y":375},{"k":"4a","x":745,"y":375},{"k":"4b","x":953,"y":375},{"k":"4b","x":1002,"y":375},{"k":"4c","x":697,"y":414},{"k":"4c","x":745,"y":415},{"k":"4d","x":953,"y":415},{"k":"4d","x":1002,"y":414},{"k":"6a","x":693,"y":545},{"k":"6a","x":735,"y":553},{"k":"6b","x":965,"y":535},{"k":"6b","x":1005,"y":544},{"k":"6c","x":693,"y":585},{"k":"6c","x":735,"y":590},{"k":"6d","x":965,"y":577},{"k":"6d","x":1005,"y":586},{"k":"7a","x":693,"y":630},{"k":"7a","x":740,"y":634},{"k":"7b","x":960,"y":625},{"k":"7b","x":1005,"y":631},{"k":"7c","x":693,"y":667},{"k":"7c","x":740,"y":669},{"k":"7d","x":960,"y":667},{"k":"7d","x":1005,"y":668},{"k":"8a","x":698,"y":706},{"k":"8a","x":745,"y":708},{"k":"8b","x":953,"y":708},{"k":"8b","x":1000,"y":706},{"k":"8c","x":698,"y":744},{"k":"8c","x":745,"y":745},{"k":"8d","x":953,"y":745},{"k":"8d","x":1000,"y":744}],
"tower":[{"k":"1a","x":738,"y":127},{"k":"1a","x":739,"y":172},{"k":"1b","x":960,"y":127},{"k":"1b","x":961,"y":172},{"k":"3a","x":738,"y":279},{"k":"3a","x":739,"y":324},{"k":"3b","x":961,"y":279},{"k":"3b","x":962,"y":324},{"k":"4a","x":736,"y":372},{"k":"4a","x":737,"y":420},{"k":"4b","x":963,"y":372},{"k":"4b","x":964,"y":420},{"k":"6a","x":732,"y":555},{"k":"6a","x":733,"y":598},{"k":"6b","x":966,"y":537},{"k":"6b","x":967,"y":580},{"k":"7a","x":734,"y":630},{"k":"7a","x":735,"y":673},{"k":"7b","x":966,"y":625},{"k":"7b","x":967,"y":670},{"k":"8a","x":736,"y":702},{"k":"8a","x":737,"y":749},{"k":"8b","x":960,"y":702},{"k":"8b","x":961,"y":749}]
},
"resolve":{"scale":{"x":"independent","y":"independent"}},
"layer":[
{"data":{"name":"refBand"},"mark":{"type":"line","stroke":"#111","strokeWidth":9,"strokeDash":[1.5,1.5],"clip":false},"encoding":{"x":{"field":"x","type":"quantitative","axis":null,"scale":{"domain":[0,1077],"range":[0,1077]}},"y":{"field":"y","type":"quantitative","axis":null,"scale":{"domain":[0,846],"range":[0,846]}},"detail":{"field":"k"}}},
{"data":{"name":"refLine"},"mark":{"type":"line","stroke":"#111","strokeWidth":1.6,"strokeDash":[2,1]},"encoding":{"x":{"field":"x","type":"quantitative","axis":null,"scale":{"domain":[0,1077],"range":[0,1077]}},"y":{"field":"y","type":"quantitative","axis":null,"scale":{"domain":[0,846],"range":[0,846]}},"detail":{"field":"k"}}},
{"data":{"name":"refHatch"},"mark":{"type":"line","stroke":"#111","strokeWidth":8,"strokeDash":[2,2],"interpolate":"monotone"},"encoding":{"x":{"field":"x","type":"quantitative","axis":null,"scale":{"domain":[0,1077],"range":[0,1077]}},"y":{"field":"y","type":"quantitative","axis":null,"scale":{"domain":[0,846],"range":[0,846]}},"detail":{"field":"k"}}},
{"data":{"name":"vert"},"mark":{"type":"line","stroke":"#7f0808","strokeWidth":24,"strokeDash":[1.3,15.4]},"encoding":{"x":{"field":"x","type":"quantitative","axis":null,"scale":{"domain":[0,1077],"range":[0,1077]}},"y":{"field":"y","type":"quantitative","axis":null,"scale":{"domain":[0,846],"range":[0,846]}},"detail":{"field":"k"}}},
{"data":{"name":"web"},"mark":{"type":"line","stroke":"#7f0808","strokeWidth":1.3},"encoding":{"x":{"field":"x","type":"quantitative","axis":null,"scale":{"domain":[0,1077],"range":[0,1077]}},"y":{"field":"y","type":"quantitative","axis":null,"scale":{"domain":[0,846],"range":[0,846]}},"detail":{"field":"k"}}},
{"data":{"name":"hatch"},"mark":{"type":"line","stroke":"#7f0808","strokeWidth":8,"strokeDash":[2,2],"interpolate":"monotone"},"encoding":{"x":{"field":"x","type":"quantitative","axis":null,"scale":{"domain":[0,1077],"range":[0,1077]}},"y":{"field":"y","type":"quantitative","axis":null,"scale":{"domain":[0,846],"range":[0,846]}},"detail":{"field":"k"}}},
{"data":{"name":"chord"},"mark":{"type":"line","stroke":"#7f0808","strokeWidth":1.8,"interpolate":"monotone"},"encoding":{"x":{"field":"x","type":"quantitative","axis":null,"scale":{"domain":[0,1077],"range":[0,1077]}},"y":{"field":"y","type":"quantitative","axis":null,"scale":{"domain":[0,846],"range":[0,846]}},"detail":{"field":"k"}}},
{"data":{"name":"band"},"mark":{"type":"line","stroke":"#7f0808","strokeWidth":9,"strokeDash":[2.5,1]},"encoding":{"x":{"field":"x","type":"quantitative","axis":null,"scale":{"domain":[0,1077],"range":[0,1077]}},"y":{"field":"y","type":"quantitative","axis":null,"scale":{"domain":[0,846],"range":[0,846]}},"detail":{"field":"k"}}},
{"data":{"name":"tower"},"mark":{"type":"line","stroke":"#7f0808","strokeWidth":13,"strokeDash":[2.5,1]},"encoding":{"x":{"field":"x","type":"quantitative","axis":null,"scale":{"domain":[0,1077],"range":[0,1077]}},"y":{"field":"y","type":"quantitative","axis":null,"scale":{"domain":[0,846],"range":[0,846]}},"detail":{"field":"k"}}},
{"data":{"name":"hl"},"mark":{"type":"rule","stroke":"#000","strokeWidth":2.2},"encoding":{"x":{"field":"a","type":"quantitative","axis":null,"scale":{"domain":[0,1,2,3,4,5,6],"range":[0,75,218,350,483,615,1077]}},"x2":{"field":"b"},"y":{"field":"r","type":"quantitative","axis":null,"scale":{"domain":[-1,0,0.5,1.5,2.5,3.5,4.5,5.5,6.5,7.5,8.5,9.5],"range":[5,40,100,176,258,345,429,518,607,684,757,846]}}}},
{"data":{"name":"vl"},"mark":{"type":"rule","stroke":"#000","strokeWidth":2.2},"encoding":{"x":{"field":"c","type":"quantitative","axis":null,"scale":{"domain":[0,1,2,3,4,5,6],"range":[0,75,218,350,483,615,1077]}},"y":{"field":"a","type":"quantitative","axis":null,"scale":{"domain":[-1,0,0.5,1.5,2.5,3.5,4.5,5.5,6.5,7.5,8.5,9.5],"range":[5,40,100,176,258,345,429,518,607,684,757,846]}},"y2":{"field":"b"}}},
{"data":{"name":"head"},"mark":{"type":"text","align":"center","baseline":"middle"},"encoding":{"x":{"field":"c","type":"quantitative","axis":null,"scale":{"domain":[0,1,2,3,4,5,6],"range":[0,75,218,350,483,615,1077]}},"y":{"field":"r","type":"quantitative","axis":null,"scale":{"domain":[-1,0,0.5,1.5,2.5,3.5,4.5,5.5,6.5,7.5,8.5,9.5],"range":[5,40,100,176,258,345,429,518,607,684,757,846]}},"text":{"field":"t"}}},
{"data":{"name":"table"},"mark":{"type":"text","align":"center","baseline":"middle","dy":2},"encoding":{"x":{"datum":0.55,"type":"quantitative","axis":null,"scale":{"domain":[0,1,2,3,4,5,6],"range":[0,75,218,350,483,615,1077]}},"y":{"field":"no","type":"quantitative","axis":null,"scale":{"domain":[-1,0,0.5,1.5,2.5,3.5,4.5,5.5,6.5,7.5,8.5,9.5],"range":[5,40,100,176,258,345,429,518,607,684,757,846]}},"text":{"field":"no"}}},
{"data":{"name":"table"},"mark":{"type":"text","align":"center","baseline":"middle","dy":2},"encoding":{"x":{"datum":1.48,"type":"quantitative","axis":null,"scale":{"domain":[0,1,2,3,4,5,6],"range":[0,75,218,350,483,615,1077]}},"y":{"field":"no","type":"quantitative","axis":null,"scale":{"domain":[-1,0,0.5,1.5,2.5,3.5,4.5,5.5,6.5,7.5,8.5,9.5],"range":[5,40,100,176,258,345,429,518,607,684,757,846]}},"text":{"field":"freq"}}},
{"data":{"name":"table"},"mark":{"type":"text","align":"right","baseline":"middle","dy":2},"encoding":{"x":{"datum":2.98,"type":"quantitative","axis":null,"scale":{"domain":[0,1,2,3,4,5,6],"range":[0,75,218,350,483,615,1077]}},"y":{"field":"no","type":"quantitative","axis":null,"scale":{"domain":[-1,0,0.5,1.5,2.5,3.5,4.5,5.5,6.5,7.5,8.5,9.5],"range":[5,40,100,176,258,345,429,518,607,684,757,846]}},"text":{"field":"mx"}}},
{"data":{"name":"table"},"mark":{"type":"text","align":"right","baseline":"middle","dy":2},"encoding":{"x":{"datum":3.98,"type":"quantitative","axis":null,"scale":{"domain":[0,1,2,3,4,5,6],"range":[0,75,218,350,483,615,1077]}},"y":{"field":"no","type":"quantitative","axis":null,"scale":{"domain":[-1,0,0.5,1.5,2.5,3.5,4.5,5.5,6.5,7.5,8.5,9.5],"range":[5,40,100,176,258,345,429,518,607,684,757,846]}},"text":{"field":"my"}}},
{"data":{"name":"table"},"mark":{"type":"text","align":"right","baseline":"middle","dy":2},"encoding":{"x":{"datum":4.98,"type":"quantitative","axis":null,"scale":{"domain":[0,1,2,3,4,5,6],"range":[0,75,218,350,483,615,1077]}},"y":{"field":"no","type":"quantitative","axis":null,"scale":{"domain":[-1,0,0.5,1.5,2.5,3.5,4.5,5.5,6.5,7.5,8.5,9.5],"range":[5,40,100,176,258,345,429,518,607,684,757,846]}},"text":{"field":"mz"}}}
]}
